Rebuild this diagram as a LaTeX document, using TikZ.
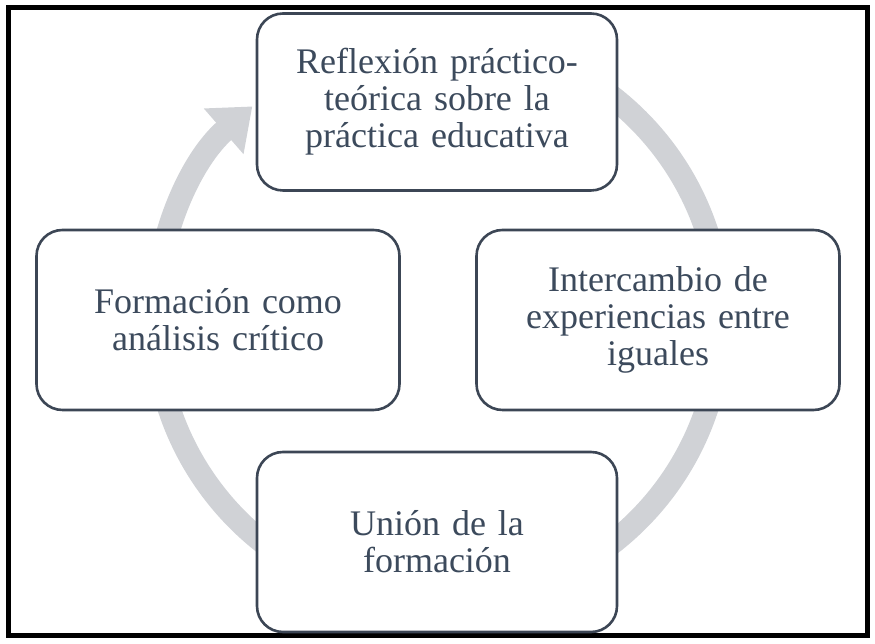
\documentclass[tikz,border=0pt]{standalone}
\usepackage{fontspec}
\setmainfont{Liberation Serif}
\usetikzlibrary{arrows.meta}
\definecolor{ringgray}{HTML}{D0D2D6}
\definecolor{boxline}{HTML}{3C4655}
\definecolor{boxtext}{HTML}{3C4A5C}
\begin{document}
\begin{tikzpicture}[x=1pt,y=1pt,
  stage/.style={draw=boxline,line width=2.6pt,rounded corners=26pt,fill=white,
    text=boxtext,align=center,text width=340pt,
    font=\fontsize{36}{37}\selectfont,inner sep=0pt}]
  \useasboundingbox (0,0) rectangle (875,644);
  \draw[line width=5pt] (8,8) rectangle (867,636);

  % ring with arrow
  \draw[ringgray,line width=23pt,-{Triangle[width=58pt,length=38pt]}]
    (438,324) ++(90:283) arc[start angle=90,end angle=-229,radius=283];

  \node[stage,minimum width=360pt,minimum height=177pt] (top)    at (437,542) {Reflexión práctico-\\teórica sobre la\\práctica educativa};
  \node[stage,minimum width=363pt,minimum height=180pt] (right)  at (658,324) {Intercambio de\\experiencias entre\\iguales};
  \node[stage,minimum width=360pt,minimum height=180pt] (bottom) at (437,102) {Unión de la\\formación};
  \node[stage,minimum width=363pt,minimum height=180pt] (left)   at (218,324) {Formación como\\análisis crítico};
\end{tikzpicture}
\end{document}
